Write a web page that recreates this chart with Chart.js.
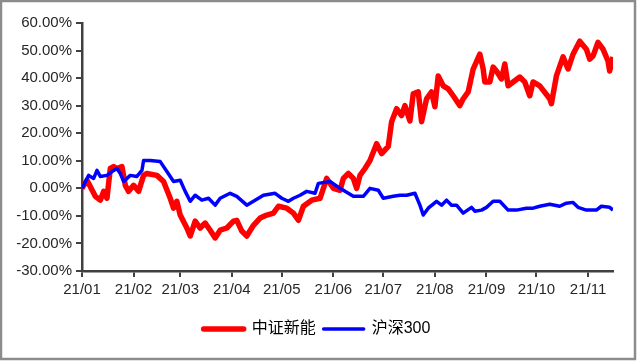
<!DOCTYPE html>
<html>
<head>
<meta charset="utf-8">
<script src="https://cdn.jsdelivr.net/npm/chart.js@4"></script>
<style>
  html, body { margin: 0; padding: 0; background: #fff; }
  #wrap { width: 640px; height: 361px; }
</style>
</head>
<body>
<div id="wrap"><canvas id="chart" width="640" height="361"></canvas></div>
<script>
// x positions are days counted from 2021-01-01
const monthStarts = [0, 31, 59, 90, 120, 151, 181, 212, 243, 273, 304];
const monthLabels = ['21/01', '21/02', '21/03', '21/04', '21/05', '21/06', '21/07', '21/08', '21/09', '21/10', '21/11'];

// 中证新能 cumulative return (%)
const newEnergyDays = [0, 3, 8, 11, 13, 15, 17, 19, 21, 24, 26, 28, 31, 34, 37, 39, 45, 49, 53, 55, 57, 59, 63, 65, 68, 71, 74, 77, 80, 83, 87, 91, 93, 96, 99, 103, 107, 111, 115, 118, 123, 127, 130, 133, 138, 143, 147, 151, 155, 157, 160, 163, 165, 167, 170, 173, 177, 180, 184, 186, 189, 192, 194, 197, 199, 202, 204, 207, 210, 212, 214, 217, 220, 223, 227, 229, 232, 235, 239, 241, 242, 245, 247, 249, 252, 254, 256, 259, 263, 266, 269, 271, 275, 281, 282, 285, 289, 292, 295, 299, 303, 305, 307, 310, 313, 316, 317, 319];
const newEnergyValues = [0, 2.9, -2.9, -4.3, -1.1, -3.6, 7.2, 7.9, 7.2, 7.9, 1.1, -1.1, 1.1, -1.1, 4.7, 5.4, 4.7, 2.5, -3.6, -7.2, -4.7, -9.7, -14.4, -17.3, -11.9, -14.4, -12.6, -15.2, -18, -15.2, -14.4, -11.9, -11.6, -15.5, -17.3, -13.4, -10.8, -9.7, -9, -6.5, -7.2, -9, -11.6, -6.5, -4.3, -3.6, 3.6, 0, -0.7, 3.6, 5.4, 3.6, 0, 4.7, 7.2, 10.1, 16.2, 12.6, 15.2, 24.2, 28.9, 26.4, 30, 24.5, 34.3, 35, 24.2, 32.5, 35, 29.6, 40.8, 37.2, 36.1, 33.6, 30, 32.5, 35, 43.3, 48.7, 43.3, 38.6, 38.6, 44, 42.6, 39.7, 45.1, 37.2, 38.6, 40.4, 38.6, 33.6, 38.6, 37.2, 32.5, 30.7, 40.8, 47.7, 43.3, 48.7, 53.4, 50.5, 46.9, 48, 53, 50.5, 46.2, 42.6, 47.7];

// 沪深300 cumulative return (%)
const hs300Days = [0, 4, 7, 9, 11, 15, 18, 21, 23, 25, 29, 33, 36, 37, 41, 47, 51, 55, 59, 62, 65, 68, 72, 76, 80, 83, 89, 93, 99, 103, 109, 116, 120, 124, 127, 131, 135, 140, 142, 149, 155, 163, 169, 173, 178, 181, 187, 191, 195, 200, 203, 205, 208, 213, 216, 219, 222, 225, 229, 234, 236, 240, 243, 247, 251, 256, 261, 267, 271, 275, 281, 287, 291, 295, 298, 303, 309, 312, 317, 319];
const hs300Values = [0, 4.7, 3.6, 6.5, 4.3, 4.7, 6.1, 7.2, 5.4, 2.5, 4.7, 4.3, 6.5, 10.1, 10.1, 9.7, 6.1, 2.5, 2.9, -1.1, -4.7, -2.5, -4.3, -3.6, -6.1, -3.6, -1.8, -2.9, -6.1, -4.7, -2.5, -1.8, -3.6, -4.7, -3.6, -2.5, -1.1, -1.8, 1.8, 2.5, 0, -2.9, -2.9, 0, -0.7, -3.6, -2.9, -2.5, -2.5, -1.8, -6.1, -9.7, -7.2, -4.7, -6.1, -4.3, -6.1, -6.1, -9, -6.9, -8.3, -7.9, -6.9, -4.7, -4.7, -7.9, -7.9, -7.2, -7.2, -6.5, -5.8, -6.5, -5.4, -5.1, -6.9, -7.9, -7.9, -6.5, -6.9, -7.9];

const toPoints = (days, values) => days.map((d, i) => ({ x: d, y: values[i] }));

const axisColor = '#404040';
const textColor = '#262626';
const tickFont = { family: 'Liberation Sans, Arial', size: 15 };

// white background and grey frame around the whole picture
const framePlugin = {
  id: 'frame',
  beforeDraw(chart) {
    const ctx = chart.ctx;
    ctx.save();
    ctx.fillStyle = '#fff';
    ctx.fillRect(0, 0, chart.width, chart.height);
    ctx.restore();
  },
  afterDraw(chart) {
    const ctx = chart.ctx;
    ctx.save();
    ctx.strokeStyle = '#8c8c8c';
    ctx.lineWidth = 2.5;
    ctx.strokeRect(1, 1, 634, 358);
    ctx.restore();
  }
};

const ctx = document.getElementById('chart').getContext('2d');
new Chart(ctx, {
  type: 'line',
  data: {
    datasets: [
      {
        label: '沪深300',
        data: toPoints(hs300Days, hs300Values),
        borderColor: '#0000ff',
        borderWidth: 3.5,
        pointRadius: 0,
        tension: 0,
        borderJoinStyle: 'round'
      },
      {
        label: '中证新能',
        data: toPoints(newEnergyDays, newEnergyValues),
        borderColor: '#ff0000',
        borderWidth: 5.5,
        pointRadius: 0,
        tension: 0,
        borderJoinStyle: 'round'
      }
    ]
  },
  options: {
    responsive: false,
    animation: false,
    layout: { padding: { left: 0, right: 6, top: 23, bottom: 14 } },
    plugins: {
      tooltip: { enabled: false },
      legend: {
        position: 'bottom',
        labels: {
          usePointStyle: true,
          pointStyleWidth: 40,
          padding: 8,
          color: textColor,
          font: { family: 'Liberation Sans, Noto Sans CJK SC', size: 16 },
          generateLabels: chart => chart.data.datasets.map((ds, i) => ({
            text: ds.label,
            strokeStyle: ds.borderColor,
            fillStyle: ds.borderColor,
            lineWidth: ds.borderWidth,
            lineCap: 'round',
            pointStyle: 'line',
            datasetIndex: i,
            hidden: false
          })).reverse()
        }
      }
    },
    scales: {
      x: {
        type: 'linear',
        min: 0,
        max: 319,
        afterBuildTicks: s => { s.ticks = monthStarts.map(v => ({ value: v })); },
        afterFit: s => { s.height = 42; },
        ticks: {
          autoSkip: false,
          maxRotation: 0,
          padding: 4,
          color: textColor,
          font: tickFont,
          callback: v => monthLabels[monthStarts.indexOf(v)]
        },
        grid: { drawOnChartArea: false, tickLength: 6, color: axisColor, lineWidth: 2 },
        border: { color: axisColor, width: 2.5 }
      },
      y: {
        min: -30,
        max: 60,
        afterFit: s => { s.width = 82; },
        ticks: {
          stepSize: 10,
          padding: 4,
          color: textColor,
          font: tickFont,
          callback: v => v.toFixed(2) + '%'
        },
        grid: { drawOnChartArea: false, tickLength: 6, color: axisColor, lineWidth: 2 },
        border: { color: axisColor, width: 2.5 }
      },
      yRight: {
        position: 'right',
        display: true,
        afterFit: s => { s.width = 21; },
        ticks: { display: false },
        grid: { display: false },
        border: { display: false }
      }
    }
  },
  plugins: [framePlugin]
});
</script>
</body>
</html>
